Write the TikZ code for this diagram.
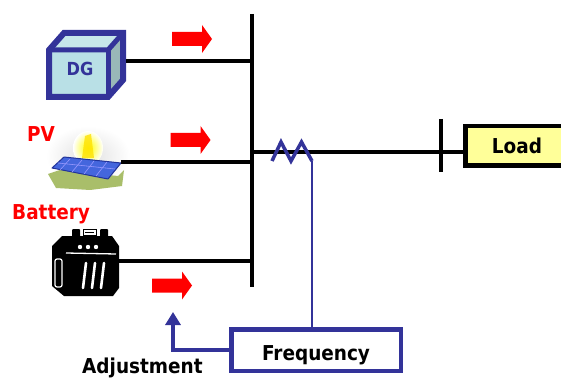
\documentclass[tikz,border=0pt]{standalone}
\usepackage{fontspec}
\newfontfamily\lblfont{DejaVu Sans}[FakeStretch=0.9]
\usetikzlibrary{arrows.meta}

\definecolor{navy}{HTML}{333399}
\definecolor{dgface}{HTML}{B9E0E6}
\definecolor{dgtop}{HTML}{C6E6EA}
\definecolor{dgside}{HTML}{99B8B8}
\definecolor{loadfill}{HTML}{FFFF99}
\definecolor{panelblue}{HTML}{4466DD}
\definecolor{paneledge}{HTML}{223399}
\definecolor{grass}{HTML}{A9BE6A}

\tikzset{
  lbl/.style={font=\lblfont\bfseries\fontsize{20.5pt}{24pt}\selectfont, inner sep=0pt},
  wire/.style={line width=3.2pt, black},
  busbar/.style={line width=3.8pt, black},
  ctrl/.style={draw=navy, line width=2.8pt},
  adjline/.style={draw=navy, line width=4pt, line join=miter},
  pics/flowarrow/.style={code={
    \fill[red] (-20,-7) -- (10,-7) -- (10,-14) -- (20,0) -- (10,14) -- (10,7) -- (-20,7) -- cycle;
  }}
}

\begin{document}
\begin{tikzpicture}[x=1pt, y=-1pt]
\useasboundingbox (0,0) rectangle (561,379);
\clip (0,0) rectangle (561,379);
\fill[white] (0,0) rectangle (561,379);

% ---- main bus and load side ----
\coordinate (busT) at (252,14);
\coordinate (busB) at (252,287);
\draw[busbar] (busT) -- (busB);

\node[lbl, draw=black, line width=4.5pt, fill=loadfill, minimum width=103.5pt,
      minimum height=39.5pt, text height=16pt, text depth=0pt] (load) at (517,146) {Load};
\coordinate (tie) at (252,152);
\draw[wire] (tie) -- (tie -| load.west);
\coordinate (tickT) at (441,119);
\coordinate (tickB) at (441,172);
\draw[busbar] (tickT) -- (tickB);

% ---- frequency sensing ----
\coordinate (zz) at (312,161);
\draw[navy, line width=3.5pt, line join=miter] (272,161) -- (281,142) -- (291,161) -- (301.5,142) -- (zz);
\node[lbl, draw=navy, line width=4.5pt, fill=white, minimum width=169.5pt,
      minimum height=41.5pt, text height=20pt, text depth=0pt] (freq) at (316,350) {Frequency};
\draw[ctrl] (freq.north -| zz) -- (zz);

\coordinate (adjtip) at (173,312);
\draw[adjline, -{Triangle[length=13pt,width=15pt]}] (freq.west) -| (adjtip);
\node[lbl, anchor=base west] (adjtext) at (82,373.5) {Adjustment};

% ---- DG unit (cube) ----
\fill[dgface] (49,50) rectangle (108,97);
\fill[dgtop] (49,50) -- (64,33) -- (123,33) -- (108,50) -- cycle;
\fill[dgside] (108,50) -- (123,33) -- (123,80) -- (108,97) -- cycle;
\draw[navy, line width=6pt, line join=miter] (49,50) -- (64,33) -- (123,33) -- (123,80) -- (108,97) -- (49,97) -- cycle;
\draw[navy, line width=5pt] (49,50) -- (108,50) -- (123,33);
\draw[navy, line width=5pt] (108,50) -- (108,97);
\node[lbl, text=navy, font=\lblfont\bfseries\fontsize{18pt}{21pt}\selectfont, anchor=base] (dg) at (80,76) {DG};
\coordinate (dgport) at (126,61);
\draw[wire] (dgport) -- (dgport -| busT);
\pic at (192,39) {flowarrow};

% ---- PV unit ----
\node[lbl, text=red, anchor=base west] (pv) at (27,142) {PV};
\shade[inner color=black!12, outer color=white] (88,156) ellipse (42 and 30);
\shade[inner color=yellow, outer color=white] (88,148) ellipse (15 and 17);
\fill[yellow!85!orange, opacity=0.8] (85,136) -- (91,134) -- (94,158) -- (82,158) -- cycle;
\fill[grass] (48,174) -- (60,170) -- (118,176) -- (124,170) -- (122,186) -- (90,190) -- (56,188) -- cycle;
\filldraw[fill=panelblue, draw=paneledge, line width=1pt, line join=round]
  (52,168) -- (64,157) -- (121,163) -- (108,179) -- cycle;
\draw[blue!40!white, line width=0.6pt] (60,170) -- (70,159) (72,172) -- (82,160) (84,174) -- (94,161) (96,176) -- (107,162);
\draw[blue!40!white, line width=0.6pt] (58,163) -- (115,169);
\coordinate (pvport) at (121,162);
\draw[wire] (pvport) -- (pvport -| busT);
\pic at (190.5,140) {flowarrow};

% ---- battery unit ----
\node[lbl, text=red, anchor=base west] (bat) at (12,219) {Battery};
\fill[black, rounded corners=1pt] (72,238) rectangle (80,229);
\fill[black, rounded corners=1pt] (100,238) rectangle (108,229);
\filldraw[fill=white, draw=black, line width=0.8pt] (83,229) rectangle (96,235);
\draw[black, line width=0.6pt] (85,232) -- (94,232);
\fill[black] (52,246) -- (62,236) -- (112,236) -- (119,246) -- (119,288) -- (113,296) -- (64,296) -- (52,286) -- cycle;
\fill[white] (80,247) circle (2.2) (88,247) circle (2.2) (96,247) circle (2.2);
\draw[white, line width=1.3pt] (66,253) -- (116,254);
\draw[white, line width=1.2pt, rounded corners=2pt] (55,259) rectangle (62,287);
\draw[white, line width=2.6pt, line cap=round] (86,263) -- (83,288) (95,263) -- (92,288) (104,263) -- (101,288);
\coordinate (batport) at (118,261);
\draw[wire] (batport) -- (batport -| busT);
\pic at (172,285.5) {flowarrow};
\end{tikzpicture}
\end{document}
